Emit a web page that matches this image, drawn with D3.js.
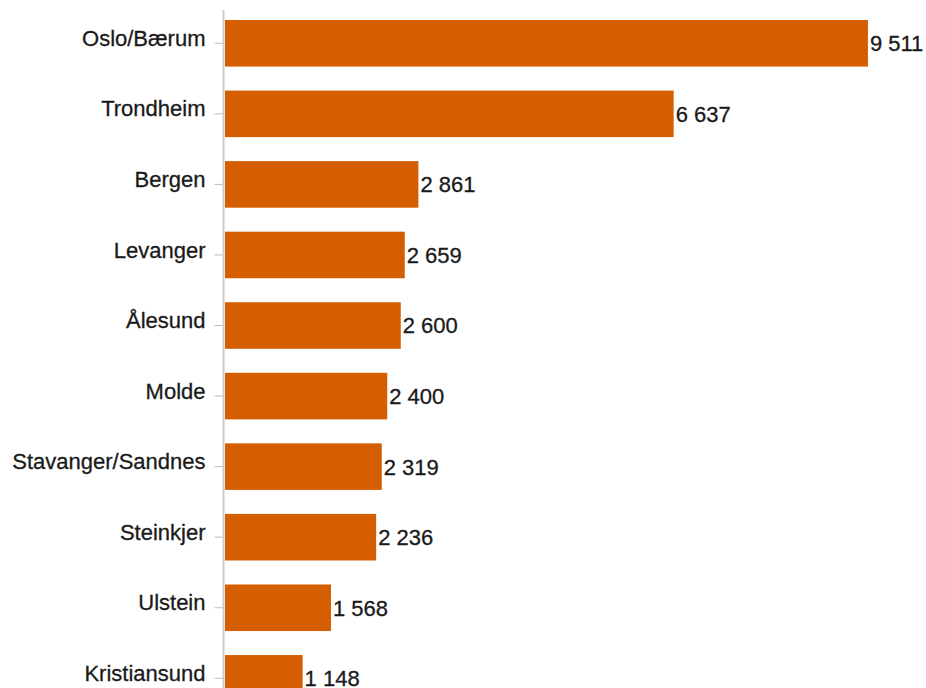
<!DOCTYPE html>
<html>
<head>
<meta charset="utf-8">
<script src="https://cdn.jsdelivr.net/npm/d3@7"></script>
<style>
  html, body { margin: 0; padding: 0; background: #fff; overflow: hidden; }
  svg { display: block; }
  text { font-family: "Liberation Sans", Arial, sans-serif; }
</style>
</head>
<body>
<svg id="chart" width="926" height="688"></svg>
<script>
// Locations and their counts
const categories = ["Oslo/Bærum", "Trondheim", "Bergen", "Levanger", "Ålesund", "Molde",
                    "Stavanger/Sandnes", "Steinkjer", "Ulstein", "Kristiansund"];
const values = [9511, 6637, 2861, 2659, 2600, 2400, 2319, 2236, 1568, 1148];

const svg = d3.select("#chart");
const fontSize = 22;
const barColor = "#d55e00";
const textColor = "#1a1a1a";

const nb = d3.formatLocale({ decimal: ",", thousands: " ", grouping: [3], currency: ["", " kr"] });
const fmt = nb.format(",d");

const axisX = 224;
const x = d3.scaleLinear().domain([0, 10000]).range([axisX + 1, 901]);
const y = d3.scaleBand()
  .domain(categories)
  .range([8, 8 + 70.56 * categories.length])
  .paddingInner(0.34)
  .paddingOuter(0.17);

// Bars
svg.append("g")
  .selectAll("rect")
  .data(values)
  .join("rect")
  .attr("x", x(0))
  .attr("y", (d, i) => y(categories[i]))
  .attr("width", d => x(d) - x(0))
  .attr("height", y.bandwidth())
  .attr("fill", barColor);

// Value labels at bar ends
svg.append("g")
  .selectAll("text")
  .data(values)
  .join("text")
  .attr("x", d => x(d) + 2)
  .attr("y", (d, i) => y(categories[i]) + y.bandwidth() / 2)
  .attr("dy", "0.36em")
  .attr("font-size", fontSize)
  .attr("fill", textColor)
  .attr("stroke", textColor)
  .attr("stroke-width", 0.3)
  .text(d => fmt(d));

// Category axis
const yAxis = d3.axisLeft(y).tickSizeInner(9).tickSizeOuter(0).tickPadding(9);
const gAxis = svg.append("g")
  .attr("transform", `translate(${axisX - 0.5},0)`)
  .call(yAxis);
gAxis.select(".domain").remove();
gAxis.selectAll(".tick line").attr("stroke", "#bbb");
gAxis.selectAll(".tick text")
  .attr("font-size", fontSize)
  .attr("font-family", "'Liberation Sans', Arial, sans-serif")
  .attr("fill", textColor)
  .attr("stroke", textColor)
  .attr("stroke-width", 0.3)
  .attr("dy", "0.12em");

// Vertical baseline
svg.append("line")
  .attr("x1", axisX - 0.5).attr("x2", axisX - 0.5)
  .attr("y1", 10).attr("y2", 688)
  .attr("stroke", "#ccc")
  .attr("stroke-width", 2);
</script>
</body>
</html>
